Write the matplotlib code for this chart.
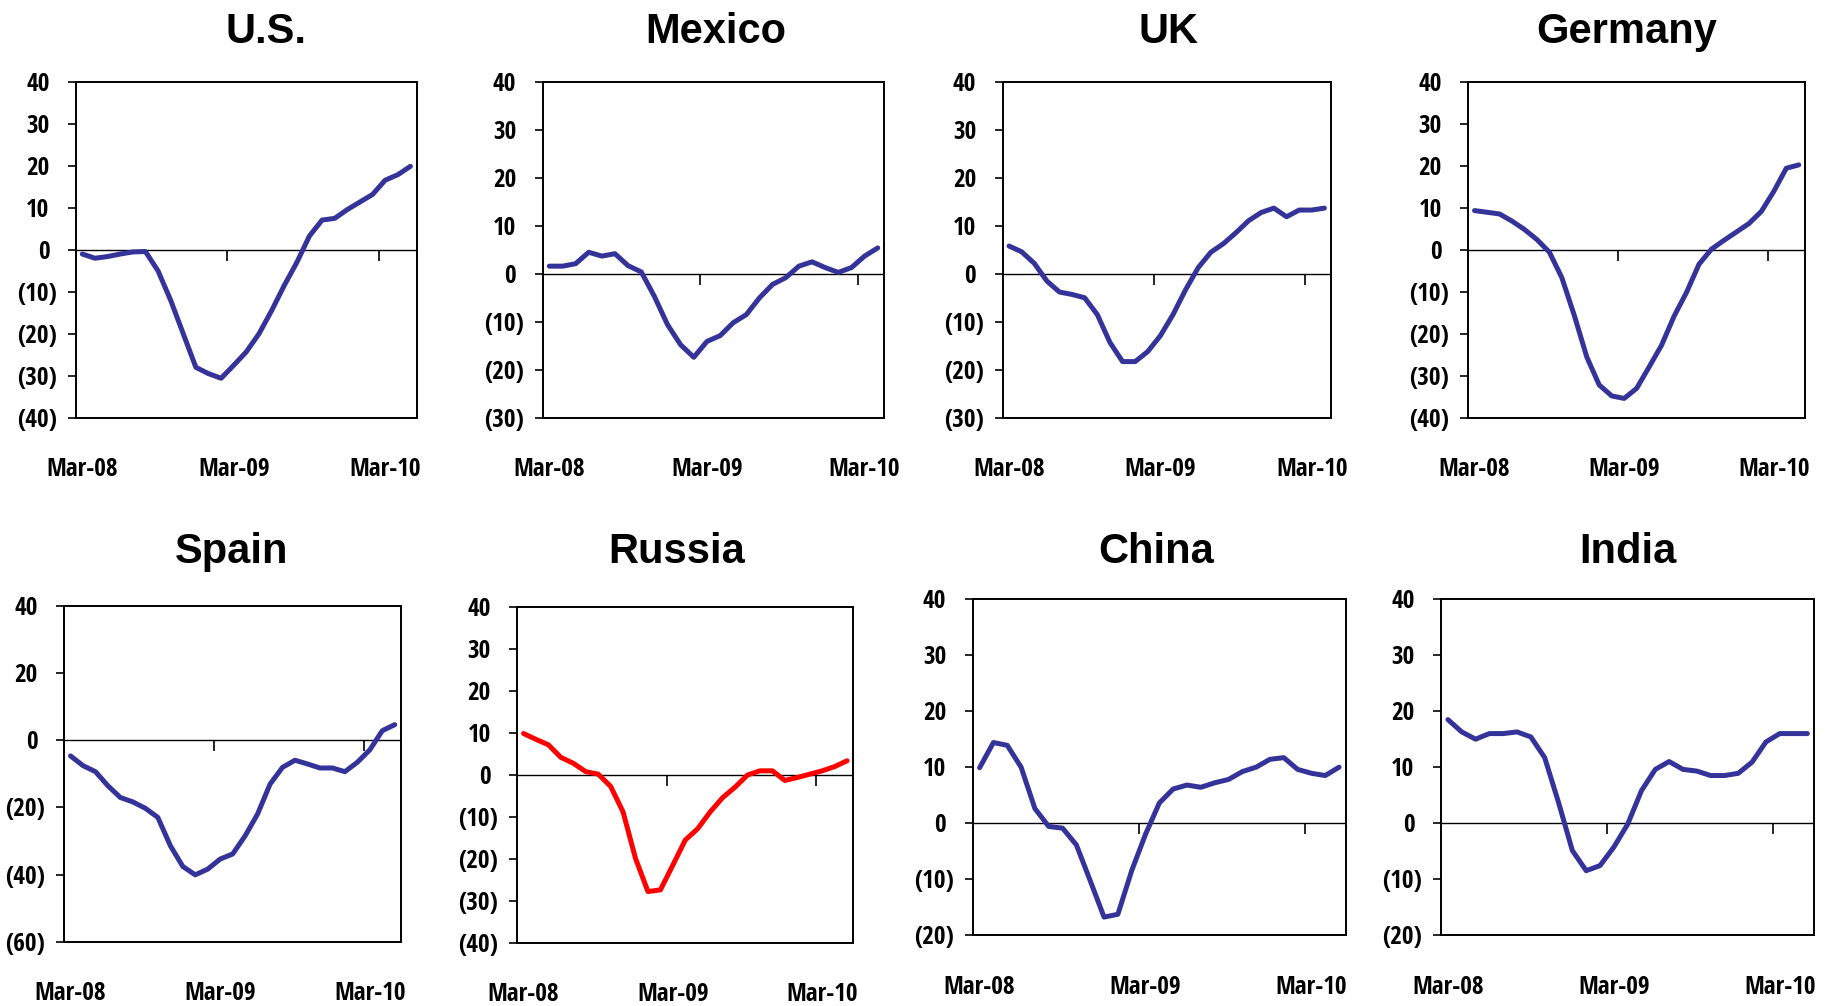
import os
import matplotlib
matplotlib.use("Agg")
import matplotlib.pyplot as plt
from matplotlib import font_manager as fm
from matplotlib.textpath import TextPath
from matplotlib.transforms import blended_transform_factory, ScaledTranslation

# Year-over-year change, monthly, starting Mar-08
us = [-1.0, -2.0, -1.6, -1.0, -0.5, -0.4, -5.0, -12.0, -20.0, -28.0, -29.5, -30.6,
      -27.5, -24.3, -20.0, -14.5, -8.5, -3.0, 3.3, 7.1, 7.5, 9.6, 11.4, 13.2,
      16.6, 17.9, 19.9]
mexico = [1.6, 1.6, 2.1, 4.5, 3.7, 4.2, 1.7, 0.4, -4.7, -10.6, -14.8, -17.4,
          -14.1, -12.9, -10.2, -8.5, -5.0, -2.2, -0.8, 1.6, 2.5, 1.3, 0.3, 1.3,
          3.7, 5.4]
uk = [5.8, 4.6, 2.2, -1.5, -3.8, -4.3, -5.0, -8.5, -14.3, -18.3, -18.3, -16.2,
      -12.9, -8.5, -3.3, 1.3, 4.5, 6.3, 8.6, 11.1, 12.8, 13.7, 11.9, 13.3,
      13.3, 13.7]
germany = [9.4, 9.0, 8.6, 6.9, 4.9, 2.5, -0.5, -6.6, -15.6, -25.5, -32.2, -34.8,
           -35.4, -33.0, -27.9, -22.7, -15.8, -10.1, -3.4, 0.2, 2.3, 4.3, 6.3, 9.2,
           14.0, 19.5, 20.3]
spain = [-4.7, -7.6, -9.4, -13.6, -17.1, -18.4, -20.3, -23.0, -31.4, -37.6, -40.1, -38.4,
         -35.4, -33.9, -28.5, -22.0, -13.1, -8.1, -6.0, -7.1, -8.3, -8.3, -9.4, -6.6,
         -2.9, 2.8, 4.6]
russia = [9.9, 8.5, 7.2, 4.2, 2.8, 0.8, 0.2, -2.7, -8.8, -19.9, -27.8, -27.4,
          -21.5, -15.5, -12.8, -8.8, -5.4, -2.9, 0.0, 1.0, 1.0, -1.3, -0.6, 0.2,
          1.0, 2.0, 3.4]
china = [9.9, 14.4, 13.9, 10.0, 2.6, -0.6, -0.9, -3.9, -10.3, -16.8, -16.3, -8.5,
         -2.0, 3.6, 6.1, 6.8, 6.4, 7.2, 7.8, 9.2, 10.0, 11.4, 11.7, 9.6,
         8.9, 8.5, 10.0]
india = [18.5, 16.3, 15.0, 16.0, 16.0, 16.3, 15.4, 11.7, 3.7, -4.9, -8.5, -7.6,
         -4.3, -0.2, 5.8, 9.6, 11.0, 9.6, 9.3, 8.5, 8.5, 8.9, 10.9, 14.5,
         16.0, 16.0, 16.0]

titles = ["U.S.", "Mexico", "UK", "Germany", "Spain", "Russia", "China", "India"]
series = [us, mexico, uk, germany, spain, russia, china, india]
y_ticks = [list(range(-40, 41, 10)), list(range(-30, 41, 10)), list(range(-30, 41, 10)),
           list(range(-40, 41, 10)), list(range(-60, 41, 20)), list(range(-40, 41, 10)),
           list(range(-20, 41, 10)), list(range(-20, 41, 10))]
x_labels = ["Mar-08", "Mar-09", "Mar-10"]
x_label_pos = [0, 12, 24]
year_marks = [11.5, 23.5]

W, H, DPI = 1837, 1006, 100
BLUE = "#333399"
RED = "#FF0000"
line_colors = [BLUE, BLUE, BLUE, BLUE, BLUE, RED, BLUE, BLUE]

# plot boxes in pixels: left, right, top, bottom ; title centre x and baseline y
boxes = [(76, 416.7, 82, 417.7), (542.7, 884.3, 82, 417.7),
         (1002.7, 1330.7, 82, 417.7), (1468.3, 1805, 82.3, 417.7),
         (64.3, 401, 605.7, 941.7), (517.3, 853.3, 607.3, 942.7),
         (972.7, 1346, 599.3, 935), (1441, 1814.3, 599.3, 935)]
title_at = [(266, 42.7), (716, 42.7), (1168.5, 42.7), (1627, 42.7),
            (232, 563.3), (676.5, 563.3), (1156, 563.3), (1628, 563.3)]

LABEL_WIDTH_PX = 69.0   # width of a "Mar-08" label
LABEL_CAP_PX = 21.0     # cap height of the axis labels


def _weight(e):
    w = e.weight
    if isinstance(w, str):
        return {"bold": 700, "extra bold": 800, "heavy": 800, "black": 900,
                "semibold": 600, "demibold": 600, "medium": 500}.get(w, 400)
    return int(w)


def narrow_heavy_file():
    """Find a condensed heavy sans face for the axis labels."""
    entries = [e for e in fm.fontManager.ttflist if e.style == "normal"]
    for name in ("Liberation Sans Narrow", "Arial Narrow"):
        for e in entries:
            if e.name == name and _weight(e) == 700:
                return e.fname
    for family in ("Noto Sans", "Noto Sans Condensed", "Open Sans",
                   "Open Sans Condensed", "DejaVu Sans", "DejaVu Sans Condensed"):
        cands = [e for e in entries if e.name == family and
                 _weight(e) in (700, 800) and
                 (e.stretch == "condensed" or "Condensed" in family)]
        if cands:
            def rank(e):
                b = os.path.basename(e.fname)
                width_rank = 2 if "SemiCondensed" in b else (0 if "ExtraCondensed" in b else 1)
                return (0 if _weight(e) == 800 else 1, width_rank)
            cands.sort(key=rank)
            return cands[0].fname
    return None


fname = narrow_heavy_file()
if fname:
    base_fp = fm.FontProperties(fname=fname)
else:
    base_fp = fm.FontProperties(family="Liberation Sans", weight="bold")

# size the label face so "Mar-08" spans the intended width without exceeding cap height
ref = 100.0
w_ext = TextPath((0, 0), "Mar-08", size=ref, prop=base_fp).get_extents().width
h_ext = TextPath((0, 0), "M", size=ref, prop=base_fp).get_extents().height
pt_to_px = DPI / 72.0
size_w = LABEL_WIDTH_PX / (w_ext / ref * pt_to_px)
size_h = LABEL_CAP_PX / (h_ext / ref * pt_to_px)
tick_size = min(size_w, size_h)
cap_px = h_ext / ref * pt_to_px * tick_size
tick_fp = base_fp.copy()
tick_fp.set_size(tick_size)

fig = plt.figure(figsize=(W / DPI, H / DPI), dpi=DPI)
fig.patch.set_facecolor("white")


def px(v):
    return v / DPI


for k in range(8):
    l, r, t, b = boxes[k]
    ax = fig.add_axes([l / W, 1 - b / H, (r - l) / W, (b - t) / H])
    vals = series[k]
    n = len(vals)
    ax.plot(range(n), vals, color=line_colors[k], lw=3.6,
            solid_joinstyle="round", solid_capstyle="round", zorder=3)
    ax.axhline(0, color="black", lw=1.0, zorder=2)
    ax.plot(year_marks, [0] * len(year_marks), linestyle="none", marker=3,
            markersize=8, markeredgewidth=1.2, color="black", zorder=2)

    yt = y_ticks[k]
    ax.set_xlim(-0.5, n - 0.5)
    ax.set_ylim(min(yt), max(yt))
    ax.set_yticks(yt)
    ax.set_xticks([])
    ax.tick_params(axis="y", direction="out", length=5.5, width=1.2,
                   labelleft=False)
    for s in ax.spines.values():
        s.set_linewidth(1.4)
        s.set_color("black")

    # y labels: negatives in parentheses, positives padded like accounting format
    ytr = blended_transform_factory(ax.transAxes, ax.transData)
    for v in yt:
        lab = f"{v}" if v >= 0 else f"({abs(v)})"
        off = -26.5 if v >= 0 else -19.3
        tr = ytr + ScaledTranslation(px(off), px(-cap_px / 2), fig.dpi_scale_trans)
        ax.text(0, v, lab, transform=tr, ha="right", va="baseline",
                fontproperties=tick_fp, clip_on=False)

    # x labels below the plot box
    xtr = blended_transform_factory(ax.transData, ax.transAxes)
    for pos, lab in zip(x_label_pos, x_labels):
        tr = xtr + ScaledTranslation(0, px(-58.5), fig.dpi_scale_trans)
        ax.text(pos, 0, lab, transform=tr, ha="center", va="baseline",
                fontproperties=tick_fp, clip_on=False)

    tx, ty = title_at[k]
    fig.text(tx / W, 1 - ty / H, titles[k], ha="center", va="baseline",
             family=["Liberation Sans", "DejaVu Sans"], fontsize=30,
             fontweight="bold")

fig.savefig("out.png", dpi=DPI, facecolor="white")
